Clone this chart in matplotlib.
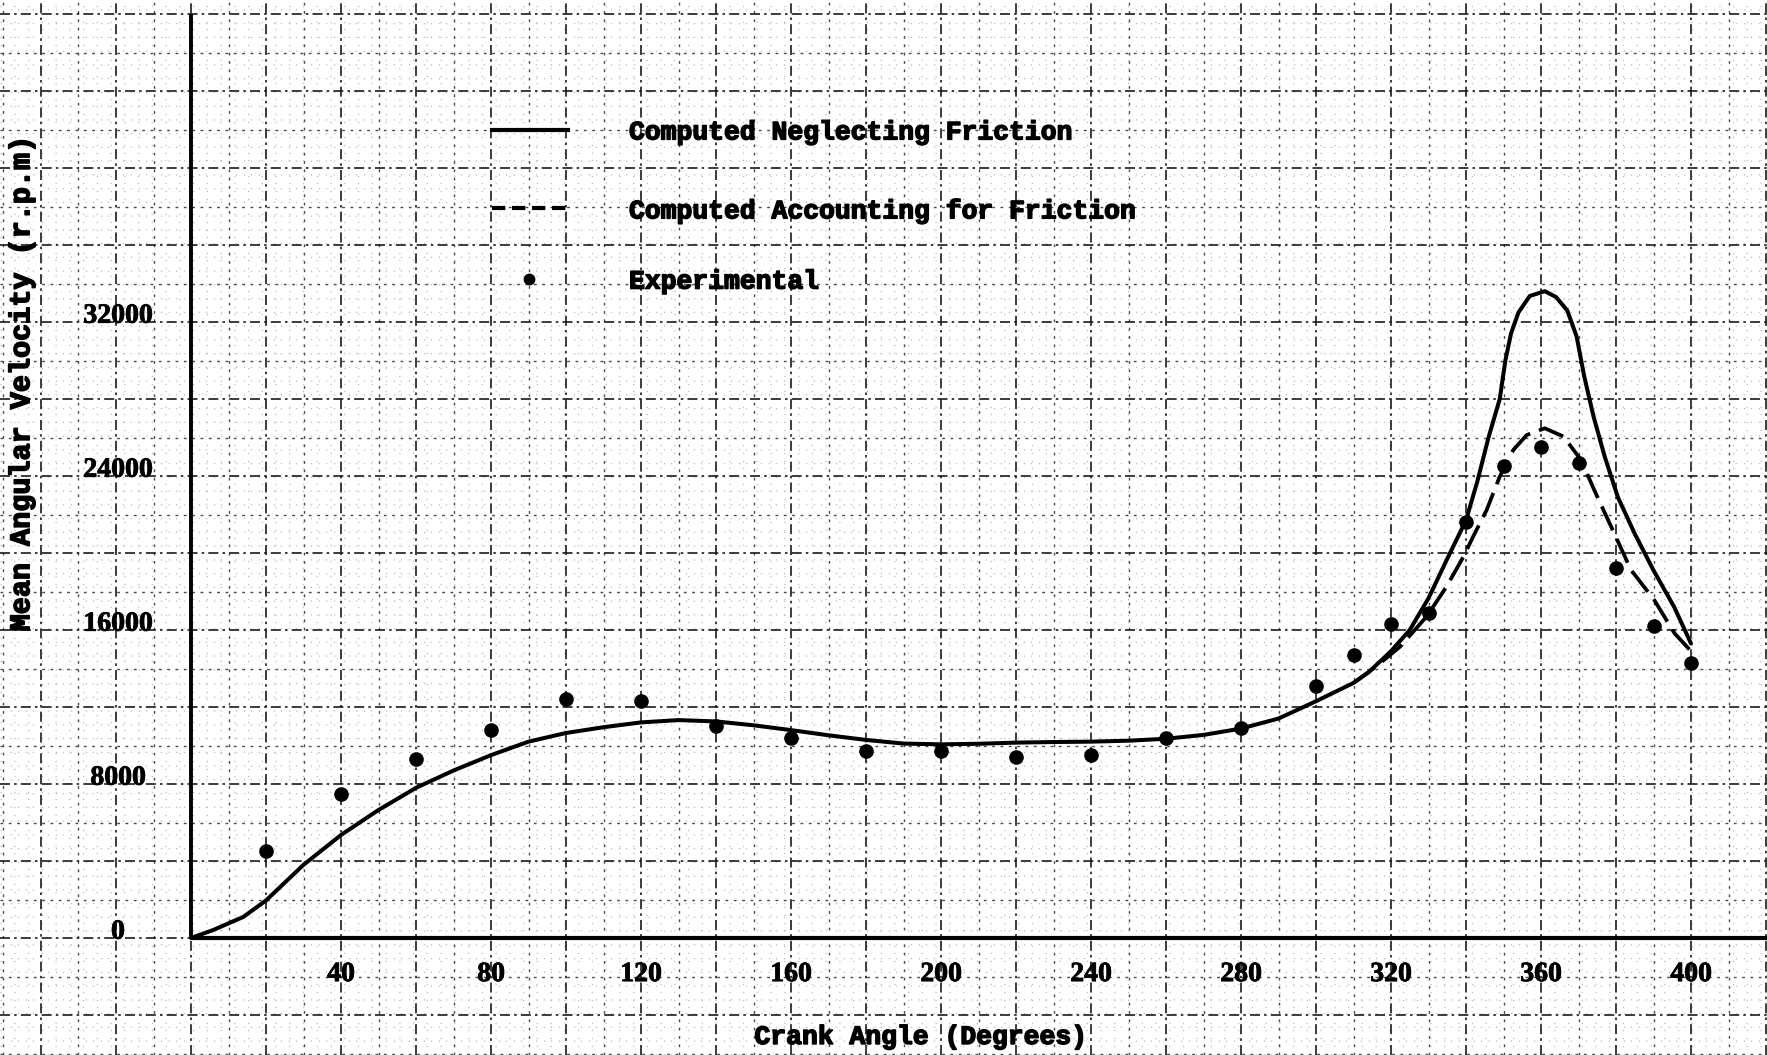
import numpy as np
import matplotlib
matplotlib.use("Agg")
import matplotlib.pyplot as plt
import matplotlib.patheffects as pe

# ---------------- data ----------------
# Computed neglecting friction (solid)
solid_x = [0, 6, 14, 20, 30, 40, 50, 60, 70, 80, 90, 100, 110, 120, 130, 140, 150,
           160, 170, 180, 190, 200, 210, 220, 230, 240, 250, 260, 270, 280, 290,
           300, 310, 314, 320, 325, 330, 335, 340, 343, 346, 349, 350.5, 352, 354,
           357, 361, 364, 367, 369.5, 371.5, 374, 377, 380.5, 385, 390, 395.5, 400]
solid_y = [0, 420, 1100, 1950, 3800, 5350, 6650, 7800, 8700, 9500, 10200, 10650,
           10950, 11200, 11320, 11250, 11050, 10800, 10530, 10290, 10100, 10060,
           10090, 10150, 10180, 10200, 10250, 10350, 10550, 10880, 11400, 12300,
           13250, 13800, 14900, 16000, 17650, 19700, 21700, 23700, 26000, 28000,
           30000, 31400, 32500, 33350, 33600, 33300, 32600, 31250, 29200, 27100,
           25000, 22900, 21000, 19100, 17200, 15300]

# Computed accounting for friction (dashed)
dash_x = [310, 316, 322.4, 329.5, 334.8, 339.3, 341.9, 345.5, 349, 352.6, 356.2,
          361, 366, 370.7, 374.2, 378.7, 384, 390.2, 395.6, 400]
dash_y = [13250, 14100, 15130, 16700, 18250, 19800, 20850, 22230, 23970, 25350,
          26130, 26480, 26050, 24830, 23270, 21370, 19120, 17560, 15830, 14900]

# Experimental points
exp_x = [20, 40, 60, 80, 100, 120, 140, 160, 180, 200, 220, 240, 260, 280, 300,
         310, 320, 330, 340, 350, 360, 370, 380, 390, 400]
exp_y = [4500, 7500, 9300, 10800, 12400, 12300, 11000, 10400, 9700, 9700, 9400,
         9500, 10400, 10900, 13100, 14700, 16300, 16900, 21600, 24500, 25500,
         24700, 19200, 16200, 14300]

x_ticks = [40, 80, 120, 160, 200, 240, 280, 320, 360, 400]
x_tick_labels = ["40", "80", "120", "160", "200", "240", "280", "320", "360", "400"]
y_ticks = [0, 8000, 16000, 24000, 32000]
y_tick_labels = ["0", "8000", "16000", "24000", "32000"]

legend_labels = ["Computed Neglecting Friction", "Computed Accounting for Friction",
                 "Experimental"]
x_label = "Crank Angle (Degrees)"
y_label = "Mean Angular Velocity (r.p.m)"

# ---------------- figure ----------------
W, H = 1767, 1055
fig = plt.figure(figsize=(W / 100, H / 100), dpi=100)
fig.patch.set_facecolor("white")
ax = fig.add_axes([0, 0, 1, 1])
x0_px, y0_px = 191.0, 938.0
px_per_deg = 3.75
px_per_unit = 154.0 / 8000.0
xmin = -x0_px / px_per_deg
xmax = (W - x0_px) / px_per_deg
ymin = -(H - y0_px) / px_per_unit
ymax = y0_px / px_per_unit
ax.set_xlim(xmin, xmax)
ax.set_ylim(ymin, ymax)
ax.axis("off")

# ---------------- graph paper grid ----------------
minor_v = [v for v in np.arange(-50, 422, 2) if v % 10 != 0]
half_v = [v for v in np.arange(-50, 422, 10) if v % 20 != 0]
major_v = list(np.arange(-40, 422, 20))
minor_h = [v for v in np.arange(-6000, 48800, 400) if v % 2000 != 0]
half_h = [v for v in np.arange(-6000, 48800, 2000) if v % 4000 != 0]
major_h = list(np.arange(-4000, 48800, 4000))

ax.vlines(minor_v, ymin, ymax, colors="#bcbcbc", linewidths=0.9,
          linestyles=(0, (1, 10)), zorder=1)
ax.hlines(minor_h, xmin, xmax, colors="#bcbcbc", linewidths=0.9,
          linestyles=(0, (1, 10)), zorder=1)
ax.vlines(half_v, ymin, ymax, colors="#4a4a4a", linewidths=1.0,
          linestyles=(0, (2, 4)), zorder=1)
ax.hlines(half_h, xmin, xmax, colors="#4a4a4a", linewidths=1.0,
          linestyles=(0, (2, 4)), zorder=1)
ax.vlines(major_v, ymin, ymax, colors="#1a1a1a", linewidths=1.2,
          linestyles=(0, (6, 2.5, 1.5, 2.5)), zorder=1)
ax.hlines(major_h, xmin, xmax, colors="#1a1a1a", linewidths=1.2,
          linestyles=(0, (6, 2.5, 1.5, 2.5)), zorder=1)

# axes lines
ax.plot([0, 0], [0, 48000], color="black", lw=2.8, solid_capstyle="butt", zorder=3)
ax.plot([0, xmax], [0, 0], color="black", lw=3.0, solid_capstyle="butt", zorder=3)

# ---------------- data curves ----------------
ax.plot(solid_x, solid_y, color="black", lw=2.9, zorder=4,
        solid_joinstyle="round", solid_capstyle="round")
ax.plot(dash_x, dash_y, color="black", lw=2.7, linestyle=(0, (7, 2.5)), zorder=4)
ax.plot(exp_x, exp_y, linestyle="none", marker="o", markersize=9.5,
        color="black", zorder=5)

# ---------------- text ----------------
thick = [pe.withStroke(linewidth=1.1, foreground="black")]
font = dict(family=["Liberation Mono", "DejaVu Sans Mono"], weight="bold",
            color="black", path_effects=thick)
numfont = dict(family=["Liberation Serif", "DejaVu Serif"], weight="bold",
               color="black", path_effects=[pe.withStroke(linewidth=0.6, foreground="black")])
for xv, lab in zip(x_ticks, x_tick_labels):
    ax.text(xv, -1900, lab, ha="center", va="center", fontsize=20, zorder=6, **numfont)
for yv, lab in zip(y_ticks, y_tick_labels):
    ax.text(-19.5, yv + 300, lab, ha="center", va="center", fontsize=20, zorder=6, **numfont)

ax.text(194.7, -5140, x_label, ha="center", va="center", fontsize=19, zorder=6, **font)
ax.text(-45.0, 28830, y_label, ha="center", va="center", rotation=90,
        fontsize=20.5, zorder=6, **font)

# legend (hand-drawn style)
leg_y = [42000, 37900, 34250]
ax.plot([80.3, 100.5], [leg_y[0], leg_y[0]], color="black", lw=3.0, zorder=4)
ax.plot([80.3, 100.5], [leg_y[1], leg_y[1]], color="black", lw=3.0,
        linestyle=(0, (3.2, 1.6)), zorder=4)
ax.plot([90.1], [leg_y[2]], marker="o", markersize=7.5, color="black", zorder=5)
for yv, lab in zip(leg_y, legend_labels):
    ax.text(116.8, yv - 150, lab, ha="left", va="center", fontsize=19, zorder=6, **font)

fig.savefig("out.png", dpi=100, facecolor="white")
